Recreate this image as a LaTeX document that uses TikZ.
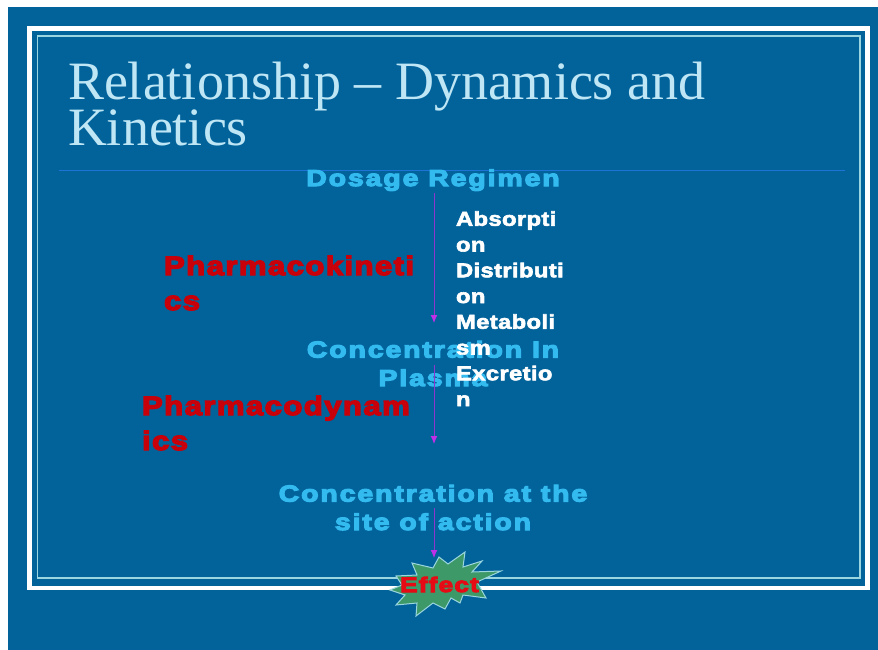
\documentclass[tikz,border=0pt]{standalone}
\usepackage{fontspec}
\usetikzlibrary{arrows.meta}
\setmainfont{Liberation Serif}
\newfontfamily\wideb[FakeStretch=1.24,FakeBold=5,LetterSpace=8]{Liberation Sans Bold}
\newfontfamily\effectb[FakeStretch=1.24,FakeBold=5,LetterSpace=6]{Liberation Sans Bold}
\newfontfamily\redb[FakeStretch=1.18,FakeBold=5,LetterSpace=5]{Liberation Sans Bold}
\newfontfamily\bodyb[FakeStretch=1.19,FakeBold=3,LetterSpace=1.8]{Liberation Sans Bold}
\definecolor{bgblue}{HTML}{02639B}
\definecolor{titlec}{HTML}{BEE6F5}
\definecolor{skyc}{HTML}{33BBF0}
\definecolor{redc}{HTML}{C8000A}
\definecolor{innerc}{HTML}{9AD6E0}
\definecolor{rulec}{HTML}{1F72D6}
\definecolor{arrowc}{HTML}{8E35D0}
\definecolor{tipc}{HTML}{C030E8}
\definecolor{starc}{HTML}{3E9968}
\definecolor{effectc}{HTML}{E60A14}
\tikzset{
  every node/.style={inner sep=0pt,outer sep=0pt},
  titleline/.style={anchor=base west,text=titlec,font=\fontsize{54}{46}\selectfont},
  heading/.style={font=\fontsize{23}{28.5}\selectfont\wideb,text=skyc,align=center,anchor=base},
  sidelabel/.style={font=\fontsize{26.5}{35}\selectfont\redb,text=redc,align=left,anchor=base west},
  steps/.style={font=\fontsize{20}{25.75}\selectfont\bodyb,text=white,align=left,anchor=base west},
  flow/.style={draw=arrowc,line width=1pt,-{Latex[length=8pt,width=7pt,color=tipc]}}
}
\begin{document}
\begin{tikzpicture}[x=1pt,y=-1pt]
\useasboundingbox (0,0) rectangle (878,650);
\fill[white] (0,0) rectangle (878,650);
\fill[bgblue] (8,7) rectangle (878,650);
\draw[white,line width=4.5pt] (29.5,28.3) rectangle (867.5,588.2);
\draw[innerc,line width=1.5pt] (37.5,36) rectangle (860,578);
\draw[rulec,line width=1pt] (59,170.5) -- (845,170.5);
\node[titleline] (title) at (68,100) {Relationship -- Dynamics and};
\node[titleline] (title2) at (68,146) {Kinetics};
\node[heading] (dose) at (433,186) {Dosage Regimen};
\node[heading] (plasma) at (433,386) {Concentration In\\Plasma};
\node[heading] (site) at (433,530) {Concentration at the\\site of action};
\coordinate (a1s) at (434,193);
\coordinate (a1e) at (434,323);
\coordinate (a2s) at (434,365);
\coordinate (a2e) at (434,444);
\coordinate (a3s) at (434,508);
\coordinate (a3e) at (434,558);
\draw[flow] (a1s) -- (a1e);
\draw[flow] (a2s) -- (a2e);
\draw[flow] (a3s) -- (a3e);
\node[sidelabel] (pk) at (164,310) {Pharmacokineti\\cs};
\node[sidelabel] (pd) at (142,450) {Pharmacodynam\\ics};
\node[steps] (adme) at (456,406) {Absorpti\\on\\Distributi\\on\\Metaboli\\sm\\Excretio\\n};
\draw[draw=innerc,fill=starc,line width=1pt] (412,563) -- (433,568) -- (439,557) -- (448,564) -- (465,552) -- (463,567) -- (482,561) -- (472,572) -- (501,571) -- (477,582) -- (486,598) -- (463,595) -- (460,603) -- (451,598) -- (445,609) -- (433,603) -- (416,616) -- (417,603) -- (396,605) -- (405,595) -- (390,590) -- (402,585) -- (396,576) -- (417,575) -- cycle;
\node[anchor=base,font=\fontsize{21}{22}\selectfont\effectb,text=effectc] (effect) at (439.5,592) {Effect};
\end{tikzpicture}
\end{document}
